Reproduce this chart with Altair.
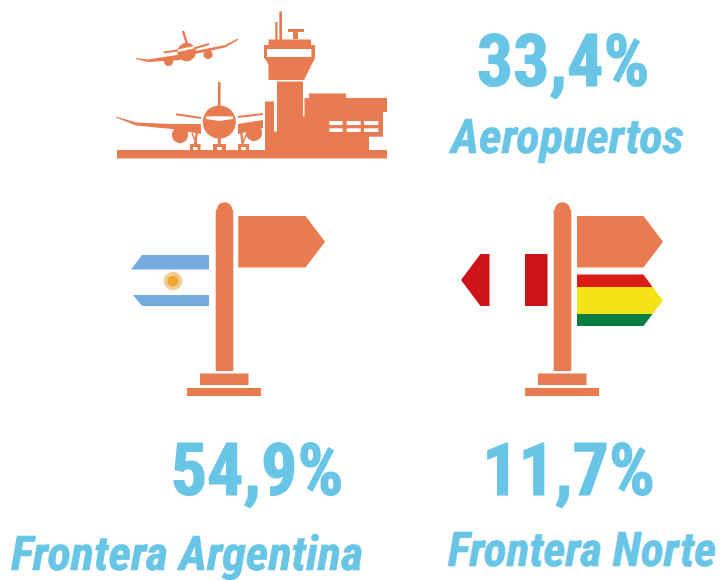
import altair as alt
import pandas as pd

ORANGE = "#E97B50"
BLUE = "#69C5E6"
FLAG_BLUE = "#74ACDF"
RED_PE = "#CC1417"
RED_BO = "#D91D14"
YELLOW = "#F5E31A"
GREEN = "#077F3F"
WHITE = "#FFFFFF"
SUN = "#EDA92F"
SUN_RAYS = "#F2CD94"

# Filled outlines in picture units: (colour, [(x, top, bottom), ...])
under = [
    (ORANGE, [(117, 150, 158.5), (387, 150, 158.5)]),                 # ground
    (ORANGE, [(116, 116.5, 117.5), (136, 122.5, 125.5), (172, 124, 129), (201, 124, 134)]),  # left wing
    (ORANGE, [(238, 124, 134), (263, 120, 128)]),                      # right wing
    (ORANGE, [(136, 58, 59), (148, 59.5, 62), (180, 54.5, 60), (195, 51, 54), (225, 45, 47.5), (238, 38.5, 40)]),  # upper plane wings
]
discs = [
    (180, 135, 9.2, ORANGE), (254, 133, 9.2, ORANGE),
    (168.6, 61.5, 5.2, ORANGE), (208, 54.5, 5.2, ORANGE),
    (219.3, 122, 18.7, ORANGE), (186.7, 52, 10.5, ORANGE),
    (224.5, 210, 8.8, ORANGE), (562.5, 210, 8.8, ORANGE),
    (173, 281, 10.5, SUN_RAYS), (173, 281, 6.2, SUN),
]
segments = [
    (219.3, 82, 219.3, 106, 2.6), (176, 114.3, 201, 118, 2), (263, 114, 238, 117, 2),
    (183, 31, 187, 44, 2.4), (164, 52.5, 181, 50, 2.2), (209, 44, 194, 48.5, 2.2),
    (197, 131, 195, 146, 2.2), (192, 133, 197, 145, 1.6),
    (219.3, 136, 219.3, 146, 3), (241, 131, 243, 146, 2.2), (247, 133, 242, 145, 1.6),
]
over = [
    (WHITE, [(206, 116.5, 119), (219, 116.3, 121), (233, 116.5, 119)]),  # main windshield
    (WHITE, [(178, 49.5, 52), (194, 46, 48.5)]),                          # small windshield
    (WHITE, [(263, 100, 150), (265, 100, 150)]),
    # undercarriage
    (ORANGE, [(190, 144, 150), (200.5, 144, 150)]),
    (ORANGE, [(213, 144, 150), (226, 144, 150)]),
    (ORANGE, [(238, 144, 150), (249, 144, 150)]),
    (WHITE, [(193, 147, 150), (197.5, 147, 150)]),
    (WHITE, [(217, 147, 150), (222, 147, 150)]),
    (WHITE, [(241, 147, 150), (246, 147, 150)]),
    # tower
    (ORANGE, [(279.3, 11.5, 40), (282, 11.5, 40)]),
    (ORANGE, [(275.3, 22, 40), (277.5, 22, 40)]),
    (ORANGE, [(288, 29, 32), (304, 29, 32)]),
    (ORANGE, [(293, 32, 39), (298, 32, 39)]),
    (ORANGE, [(268.5, 39.5, 80), (277, 39.5, 80), (304, 39.5, 80), (311, 39.5, 62)]),
    (ORANGE, [(264, 45, 58), (266, 45, 60), (277, 45, 80), (304, 45, 80), (315, 45, 58)]),
    (WHITE, [(267, 49, 57), (311.5, 49, 57)]),
    (ORANGE, [(277, 81.5, 150), (303, 81.5, 150)]),
    (ORANGE, [(265, 101.5, 150), (274, 101.5, 150)]),
    (ORANGE, [(274, 131.5, 150), (277, 131.5, 150)]),
    (ORANGE, [(303, 116.5, 150), (305.5, 116.5, 150)]),
    (ORANGE, [(304.5, 98, 150), (369, 98, 150)]),
    (ORANGE, [(309, 93.5, 98.5), (346, 93.5, 98.5)]),
    (ORANGE, [(369, 98, 136.7), (383, 98, 136.7)]),
    (ORANGE, [(383, 98, 112), (387, 98, 112)]),
    (WHITE, [(329.3, 121, 125), (342.7, 121, 125)]),
    (WHITE, [(346.7, 121, 125), (360.7, 121, 125)]),
    (WHITE, [(364, 121, 125), (378.3, 121, 125)]),
    (WHITE, [(329.3, 128.3, 132), (342.7, 128.3, 132)]),
    (WHITE, [(346.7, 128.3, 132), (360.7, 128.3, 132)]),
    (WHITE, [(364, 128.3, 132), (378.3, 128.3, 132)]),
    # left signpost
    (ORANGE, [(215.7, 210, 371), (233.3, 210, 371)]),
    (ORANGE, [(238.3, 216, 267.5), (305.5, 216, 267.5), (325, 241.7, 241.8)]),
    (ORANGE, [(200, 373.5, 385), (248.5, 373.5, 385)]),
    (ORANGE, [(187, 388, 396), (261, 388, 396)]),
    (FLAG_BLUE, [(131, 269.5, 269.6), (142, 255, 269.5), (209, 255, 269.5)]),
    (FLAG_BLUE, [(133, 295, 295.1), (142, 295, 306), (209, 295, 306)]),
    # right signpost
    (ORANGE, [(553.7, 210, 371), (571.3, 210, 371)]),
    (ORANGE, [(577, 216, 267.5), (643.5, 216, 267.5), (663, 241.7, 241.8)]),
    (ORANGE, [(538, 373.5, 385), (586.5, 373.5, 385)]),
    (ORANGE, [(525, 388, 396), (599, 388, 396)]),
    (RED_PE, [(461, 280, 280.1), (480.5, 254, 306), (489.5, 254, 306)]),
    (RED_PE, [(525, 254, 306), (547.5, 254, 306)]),
    (RED_BO, [(577, 274.5, 287), (643.5, 274.5, 287), (652.5, 287, 287.1)]),
    (YELLOW, [(577, 287, 314), (652.5, 287, 314), (663, 300.5, 300.6)]),
    (GREEN, [(577, 314, 326), (643.5, 314, 326), (652.5, 314, 314.1)]),
]
labels = [
    ("33,4%", 563, 86, 72, False),
    ("Aeropuertos", 567.5, 152.5, 48.5, True),
    ("54,9%", 257, 495, 72, False),
    ("11,7%", 568.5, 495, 72, False),
    ("Frontera Argentina", 187, 569.5, 48.5, True),
    ("Frontera Norte", 582, 566, 47.5, True),
]

x_scale = alt.Scale(domain=[8, 716], range=[0, 708], nice=False, zero=False)
y_scale = alt.Scale(domain=[8, 580], range=[0, 572], nice=False, zero=False)
X = alt.X("x:Q", scale=x_scale, axis=None)
Y = alt.Y("y:Q", scale=y_scale, axis=None)


def outlines(shapes):
    rows = []
    for i, (colour, pts) in enumerate(shapes):
        for x, top, bottom in pts:
            rows.append(dict(shape=i, c=colour, x=x, y=top, y2=bottom))
    return (
        alt.Chart(pd.DataFrame(rows))
        .mark_area(interpolate="linear")
        .encode(X, Y, y2="y2:Q", color=alt.Color("c:N", scale=None), detail="shape:N")
    )


discs_df = pd.DataFrame(discs, columns=["x", "y", "r", "c"])
discs_df["s"] = 3.14159 * discs_df["r"] ** 2
disc_layer = (
    alt.Chart(discs_df)
    .mark_circle(opacity=1)
    .encode(X, Y, size=alt.Size("s:Q", scale=None), color=alt.Color("c:N", scale=None))
)

seg_df = pd.DataFrame(segments, columns=["x", "y", "x2", "y2", "w"])
seg_layer = (
    alt.Chart(seg_df)
    .mark_rule(color=ORANGE)
    .encode(X, Y, x2="x2:Q", y2="y2:Q", strokeWidth=alt.StrokeWidth("w:Q", scale=None))
)

text_df = pd.DataFrame(labels, columns=["t", "x", "y", "fs", "it"])
text_layers = [
    alt.Chart(text_df[text_df.it == it])
    .mark_text(
        font="Roboto Condensed",
        fontWeight="bold",
        fontStyle="italic" if it else "normal",
        color=BLUE,
        stroke=BLUE,
        strokeWidth=0.6 if it else 1.2,
        align="center",
        baseline="alphabetic",
    )
    .encode(X, Y, text="t:N", size=alt.Size("fs:Q", scale=None))
    for it in [False, True]
]

chart = (
    alt.layer(outlines(under), disc_layer, seg_layer, outlines(over), *text_layers)
    .properties(width=708, height=572, padding=0, autosize=alt.AutoSizeParams(type="none"))
    .configure_view(stroke=None)
)
chart.save("out.html", embed_options={"renderer": "svg", "actions": False})
